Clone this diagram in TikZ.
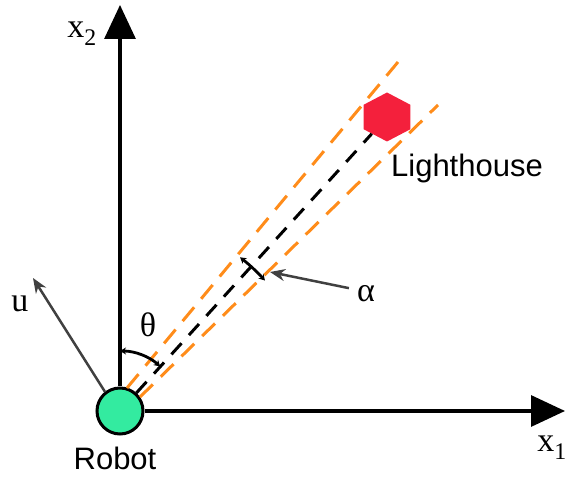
\documentclass[tikz,border=0pt]{standalone}
\usepackage{fontspec}
\setmainfont{Liberation Serif}
\newfontfamily\namefont{Liberation Sans}
\usetikzlibrary{arrows.meta,positioning,shapes.geometric}
\definecolor{mint}{HTML}{33EBA0}
\definecolor{beacon}{HTML}{F4203C}
\definecolor{beamorange}{HTML}{FF8C1A}
\definecolor{pointgray}{HTML}{404040}
\tikzset{
  robotnode/.style={circle, draw=black, fill=mint, line width=3pt, minimum size=46pt, inner sep=0pt},
  lighthousenode/.style={regular polygon, regular polygon sides=6, shape border rotate=30,
              fill=beacon, minimum size=49pt, inner sep=0pt, xscale=1.1},
  axisline/.style={-{Triangle[length=34pt, width=31pt]}, draw=black, line width=3.2pt},
  sight/.style={draw=black, line width=3pt, dash pattern=on 15pt off 11pt},
  beam/.style={draw=beamorange, line width=3pt, dash pattern=on 18pt off 11pt},
  pointer/.style={-{Stealth[length=15pt, width=12pt]}, draw=pointgray, line width=2.5pt},
  anglemark/.style={{Stealth[length=6pt, width=7pt]}-{Stealth[length=6pt, width=7pt]}, draw=black, line width=2.8pt},
  mathlbl/.style={anchor=base, inner sep=0pt, font=\fontsize{34}{36}\selectfont},
  namelbl/.style={anchor=base, inner sep=0pt, font=\namefont\fontsize{31}{33}\selectfont}
}

\begin{document}
\begin{tikzpicture}[x=1pt, y=1pt]
\useasboundingbox (0,0) rectangle (566,479);

% --- robot and beacon
\node[robotnode] (robot) at (120,68) {};
\node[lighthousenode] (light) at (387,362) {};
\node[namelbl] (robotlbl) at (115,9) {Robot};
\node[namelbl] (lightlbl) at (467,302) {Lighthouse};

% --- frame
\coordinate (x2end) at (120,474);
\coordinate (x1end) at (565,68);
\draw[axisline] (robot.north) -- (x2end);
\draw[axisline] (robot.east) -- (x1end);
\node[mathlbl] (x2lbl) at (82,441) {x\textsubscript{2}};
\node[mathlbl] (x1lbl) at (552,27) {x\textsubscript{1}};

% --- bearing cone
\coordinate (bl0) at (127,91);
\coordinate (bl1) at (398,417);
\coordinate (br0) at (140,82);
\coordinate (br1) at (438,374);
\draw[beam] (bl0) -- (bl1);
\draw[beam] (br0) -- (br1);
\draw[sight] (robot) -- (light);

% --- angles
\draw[anglemark] ([shift={(90:60)}]robot.center) arc[start angle=90, end angle=48, radius=60];
\node[mathlbl] (thetalbl) at (148,142) {θ};
\draw[anglemark] ([shift={(52:195)}]robot.center) arc[start angle=52, end angle=42, radius=195];
\node[mathlbl] (alphalbl) at (366,177) {α};
\coordinate (amark) at (270,207);
\draw[pointer] (alphalbl.west) ++(-8,6) -- (amark);

% --- control
\coordinate (utip) at (33,201);
\draw[pointer] (robot.128) -- (utip);
\node[mathlbl] (ulbl) at (20,167) {u};
\end{tikzpicture}
\end{document}
